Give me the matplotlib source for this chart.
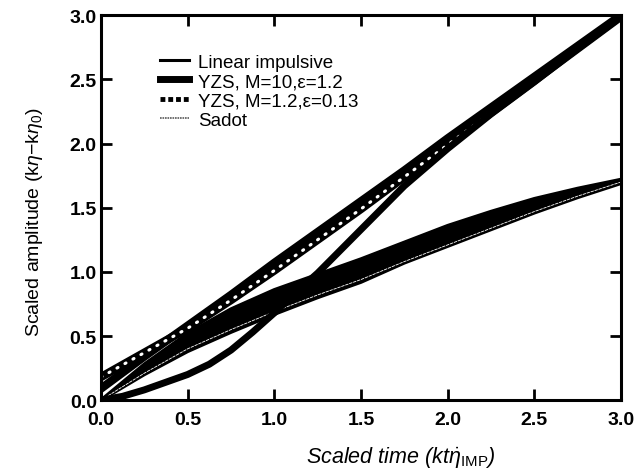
import matplotlib
matplotlib.use("Agg")
import matplotlib.pyplot as plt

plt.rcParams['font.family'] = ['Liberation Sans', 'DejaVu Sans']
plt.rcParams['mathtext.fontset'] = 'custom'
plt.rcParams['mathtext.rm'] = 'Liberation Sans'
plt.rcParams['mathtext.it'] = 'Liberation Sans:italic'

# scaled time
t = [0.0, 0.25, 0.5, 0.75, 1.0, 1.25, 1.5, 1.75, 2.0, 2.25, 2.5, 2.75, 3.0]

# upper group
linear_imp = [0.09, 0.34, 0.58, 0.82, 1.07, 1.31, 1.55, 1.79, 2.04, 2.28, 2.52, 2.76, 3.00]
yzs_m12 = [0.18, 0.37, 0.56, 0.78, 1.01, 1.25, 1.49, 1.74, 1.99, 2.24, 2.49, 2.74, 2.99]

# YZS M=10 read more densely (S-shaped)
t_m10 = [0.0, 0.125, 0.25, 0.375, 0.5, 0.625, 0.75, 0.875, 1.0, 1.125, 1.25,
         1.5, 1.75, 2.0, 2.25, 2.5, 2.75, 3.0]
yzs_m10 = [0.0, 0.03, 0.08, 0.14, 0.20, 0.28, 0.39, 0.53, 0.68, 0.84, 0.99,
           1.33, 1.67, 1.96, 2.23, 2.48, 2.74, 2.99]

# lower (nonlinear) group
nl_upper = [0.0, 0.28, 0.52, 0.71, 0.86, 0.98, 1.10, 1.23, 1.36, 1.47, 1.57, 1.65, 1.72]
nl_lower = [0.0, 0.20, 0.38, 0.53, 0.67, 0.80, 0.92, 1.07, 1.20, 1.33, 1.46, 1.58, 1.69]
sadot = [0.0, 0.21, 0.40, 0.55, 0.69, 0.82, 0.94, 1.08, 1.21, 1.34, 1.47, 1.59, 1.70]

labels = ["Linear impulsive", "YZS, M=10,\u03b5=1.2", "YZS, M=1.2,\u03b5=0.13", "Sadot"]
ticks = [0, 0.5, 1.0, 1.5, 2.0, 2.5, 3.0]
tick_labels = ["0.0", "0.5", "1.0", "1.5", "2.0", "2.5", "3.0"]

fig = plt.figure(figsize=(6.35, 4.77), dpi=100)
ax = fig.add_axes([0.159, 0.159, 0.819, 0.807])

# lower band
ax.fill_between(t, nl_lower, nl_upper, color='black', lw=0)
ax.plot(t, nl_upper, color='black', lw=2.5, solid_capstyle='round', solid_joinstyle='round')
ax.plot(t, nl_lower, color='black', lw=2.5, solid_capstyle='round', solid_joinstyle='round')
ax.plot(t, sadot, color='white', lw=0.6, ls=(0, (4, 1)))

# upper band
ax.plot(t, linear_imp, color='black', lw=6, solid_joinstyle='round')
ax.plot(t, yzs_m12, color='black', lw=6, solid_joinstyle='round')
ax.plot(t, yzs_m12, color='white', lw=2.2, ls=(0, (0.4, 2.6)), dash_capstyle='round')
ax.plot(t_m10, yzs_m10, color='black', lw=5, solid_capstyle='round', solid_joinstyle='round')

# legend handles
h1, = ax.plot([], [], color='black', lw=2.2)
h2, = ax.plot([], [], color='black', lw=5)
h3, = ax.plot([], [], color='black', lw=3.5, ls=(0, (1.0, 0.6)))
h4, = ax.plot([], [], color='0.35', lw=1.2, ls=(0, (1, 0.5)))
ax.legend([h1, h2, h3, h4], labels, loc='upper left', bbox_to_anchor=(0.1, 0.92),
          frameon=False, fontsize=13.5, handlelength=1.5, handletextpad=0.5,
          labelspacing=0.12, borderaxespad=0)

ax.set_xlim(0, 3)
ax.set_ylim(0, 3)
ax.set_xticks(ticks)
ax.set_yticks(ticks)
ax.set_xticklabels(tick_labels)
ax.set_yticklabels(tick_labels)
ax.tick_params(direction='in', length=8, width=2, top=True, right=True,
               labelsize=14, pad=3)
ax.tick_params(axis='x', pad=8)
for lab in ax.get_xticklabels() + ax.get_yticklabels():
    lab.set_fontweight('bold')
for s in ax.spines.values():
    s.set_linewidth(2.2)

ax.set_xlabel(r"Scaled time (kt$\dot{\eta}_{\rm IMP}$)", fontsize=15.5, style='italic')
ax.set_ylabel(r"Scaled amplitude (k$\eta$$-$k$\eta_0$)", fontsize=14)
ax.xaxis.set_label_coords(0.577, -0.115)
ax.yaxis.set_label_coords(-0.108, 0.465)

fig.savefig("out.png", dpi=100)
